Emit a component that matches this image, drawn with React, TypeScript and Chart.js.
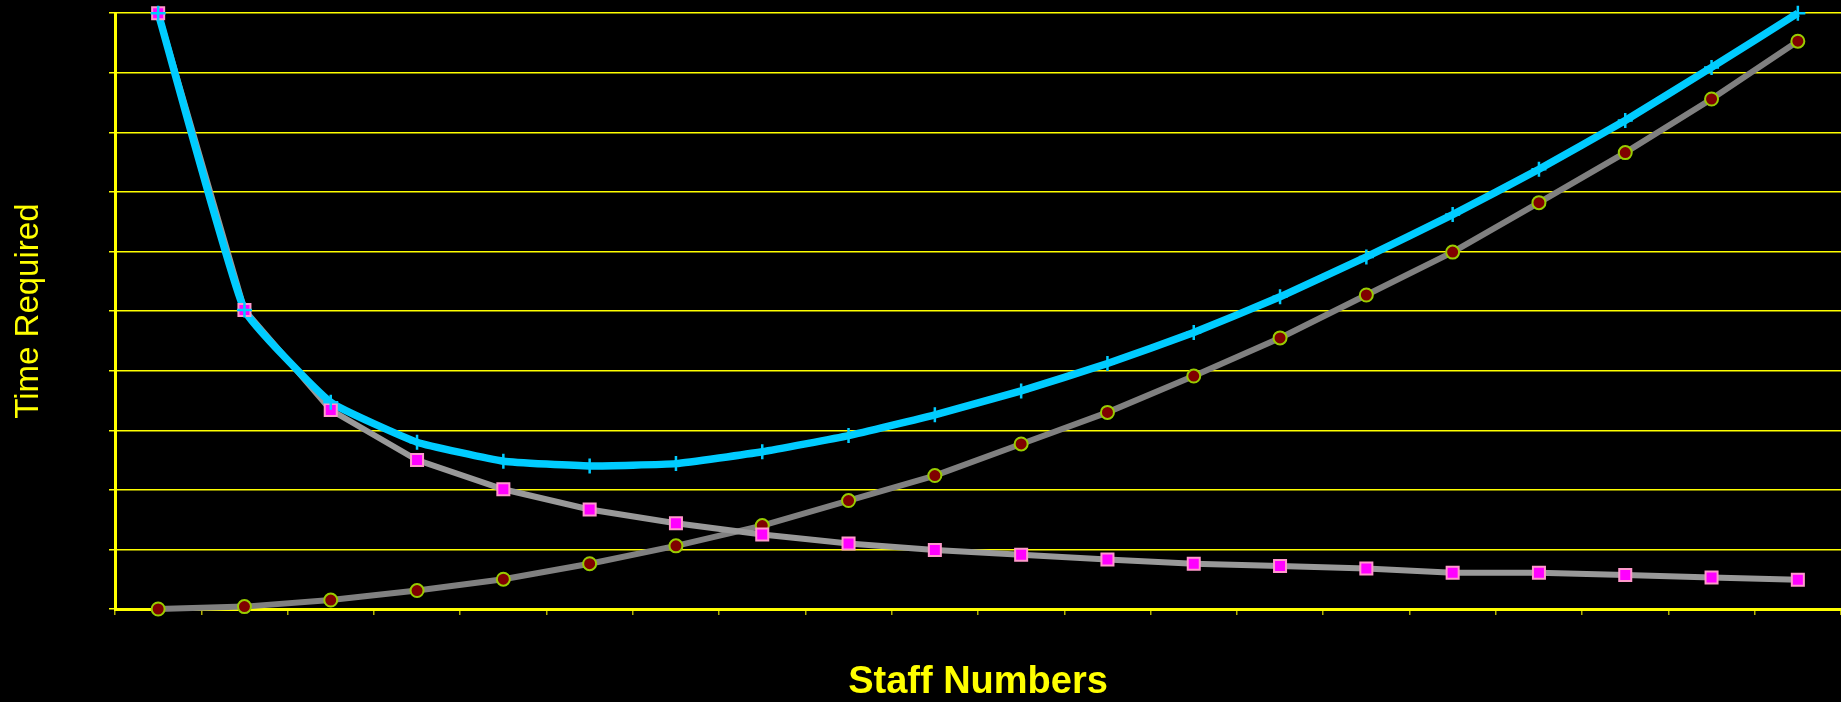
import React, { useEffect, useRef } from "react";
import { Chart, registerables } from "chart.js";

Chart.register(...registerables);

const staffNumbers = ["1","2","3","4","5","6","7","8","9","10","11","12","13","14","15","16","17","18","19","20"];
const perPersonTime = [1000, 502, 334, 250, 201, 167, 144, 125, 110, 99, 91, 83, 76, 72, 68, 61, 61, 57, 53, 49];
const communicationTime = [0, 4, 15, 31, 50, 76, 106, 140, 182, 224, 277, 330, 391, 455, 527, 599, 682, 766, 856, 953];
const totalTime = [1000, 502, 347, 280, 248, 240, 244, 264, 291, 326, 366, 412, 464, 524, 591, 662, 738, 820, 909, 1000];
const yMin = 0;
const yMax = 1000;
const yStep = 100;

export default function App() {
  const ref = useRef<HTMLCanvasElement | null>(null);

  useEffect(() => {
    document.body.style.margin = "0";
    document.body.style.background = "#000";
    const canvas = ref.current;
    if (!canvas) return;
    const chart = new Chart(canvas, {
      type: "line",
      data: {
        labels: staffNumbers,
        datasets: [
          {
            label: "Total (markers)",
            data: totalTime,
            showLine: false,
            pointStyle: "cross",
            pointRadius: 7.5,
            pointBorderWidth: 2.5,
            pointBorderColor: "#00ccff",
            pointBackgroundColor: "#00ccff",
            clip: false,
          },
          {
            label: "Per person (markers)",
            data: perPersonTime,
            showLine: false,
            pointStyle: "rect",
            pointRadius: 8.5,
            pointBorderWidth: 2,
            pointBorderColor: "#ff99cc",
            pointBackgroundColor: "#ff00ff",
            clip: false,
          },
          {
            label: "Communication (markers)",
            data: communicationTime,
            showLine: false,
            pointStyle: "circle",
            pointRadius: 6.5,
            pointBorderWidth: 2,
            pointBorderColor: "#99cc00",
            pointBackgroundColor: "#800000",
            clip: false,
          },
          {
            label: "Total",
            data: totalTime,
            borderColor: "#00ccff",
            borderWidth: 7.5,
            tension: 0.12,
            pointRadius: 0,
            clip: false,
          },
          {
            label: "Per person",
            data: perPersonTime,
            borderColor: "#999999",
            borderWidth: 6,
            tension: 0,
            pointRadius: 0,
            clip: false,
          },
          {
            label: "Communication",
            data: communicationTime,
            borderColor: "#808080",
            borderWidth: 6,
            tension: 0,
            pointRadius: 0,
            clip: false,
          },
        ],
      },
      options: {
        animation: false,
        responsive: false,
        layout: { autoPadding: false, padding: { top: 13, left: 0, right: 0, bottom: 0 } },
        plugins: {
          legend: { display: false },
          tooltip: { enabled: false },
        },
        scales: {
          x: {
            type: "category",
            offset: true,
            afterFit: (scale: any) => {
              scale.height = 93;
              scale.paddingLeft = 0;
              scale.paddingRight = 0;
            },
            grid: {
              offset: true,
              drawOnChartArea: false,
              drawTicks: true,
              tickLength: 6,
              color: "#b3b300",
              tickColor: "#b3b300",
              lineWidth: 1.5,
            },
            border: { display: true, color: "#ffff00", width: 3 },
            ticks: {
              color: "#000000",
              font: { family: "Liberation Sans", size: 12 },
              padding: 4,
            },
            title: {
              display: true,
              text: "Staff Numbers",
              color: "#ffff00",
              font: { family: "Liberation Sans", size: 38, weight: "bold", lineHeight: 1 },
              padding: { top: 0, bottom: 0 },
            },
          },
          y: {
            type: "linear",
            min: yMin,
            max: yMax,
            afterFit: (scale: any) => {
              scale.width = 115;
            },
            ticks: {
              stepSize: yStep,
              color: "#000000",
              font: { family: "Liberation Sans", size: 12 },
              padding: 6,
            },
            grid: {
              color: "#ffff00",
              lineWidth: 1.5,
              tickLength: 6,
              tickColor: "#ffff00",
            },
            border: { display: true, color: "#ffff00", width: 3 },
            title: {
              display: true,
              text: "Time Required",
              color: "#ffff00",
              font: { family: "Liberation Sans", size: 33, weight: "normal", lineHeight: 1 },
              padding: { top: 12, bottom: 0 },
            },
          },
        },
      },
    });
    return () => chart.destroy();
  }, []);

  return (
    <div style={{ position: "fixed", left: 0, top: 0, width: 1841, height: 702, background: "#000" }}>
      <canvas ref={ref} width={1841} height={702} style={{ width: 1841, height: 702, display: "block" }} />
    </div>
  );
}
